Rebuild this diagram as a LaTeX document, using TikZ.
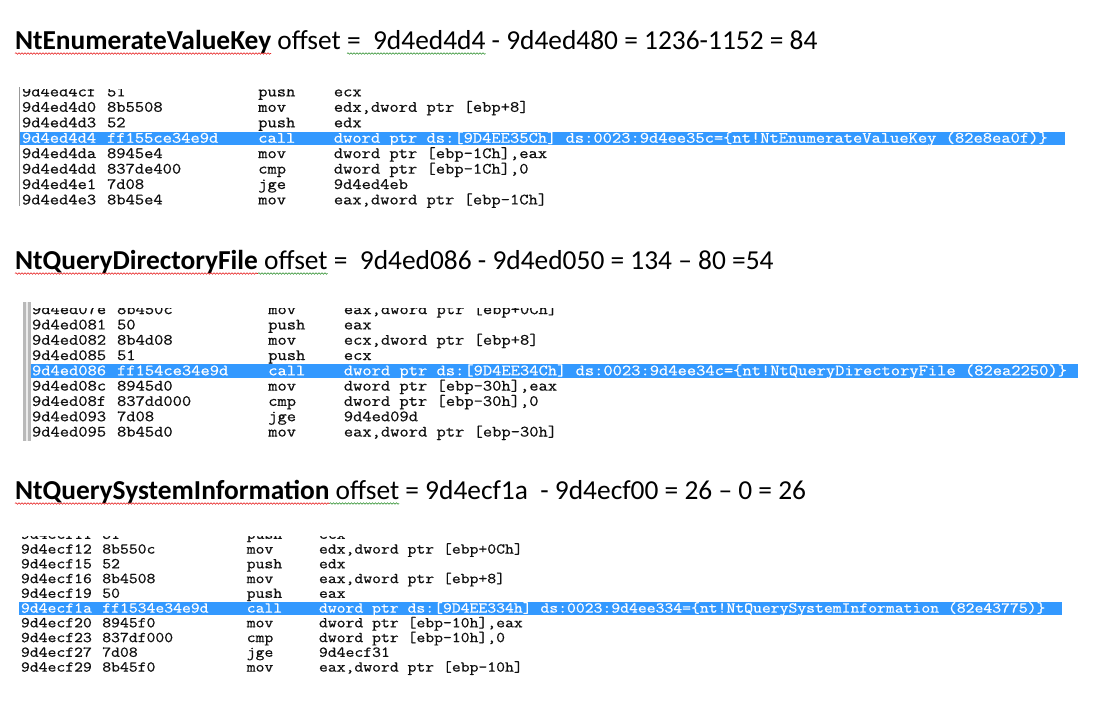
\documentclass[tikz,border=0pt]{standalone}
\usepackage{graphicx}
\usepackage{fontspec}
\setmainfont{Carlito}
\newfontfamily\codefont{Latin Modern Mono}[FakeBold=0.6]
\usetikzlibrary{decorations.pathmorphing}
\definecolor{hlblue}{RGB}{51,153,255}
\definecolor{wavred}{RGB}{230,20,20}
\definecolor{wavgreen}{RGB}{40,140,40}
\definecolor{codeink}{RGB}{15,15,15}
\newcommand\cx{22}
\newcommand\cw{9.45}
\newcommand\csz{15.75}
\newcommand\cwide[1]{\scalebox{1.143}[1]{#1}}
\newcommand\crow[7]{%
  \node[code,#7] (#1a) at (\cx,{#2+4.4}) {\cwide{#3}};
  \node[code,#7] (#1o) at ({\cx+9*\cw},{#2+4.4}) {\cwide{#4}};
  \node[code,#7] (#1m) at ({\cx+25*\cw},{#2+4.4}) {\cwide{#5}};
  \node[code,#7] (#1p) at ({\cx+33*\cw},{#2+4.4}) {\cwide{#6}};}
\begin{document}
\frenchspacing
\begin{tikzpicture}[x=1pt,y=-1pt,
  ttl/.style={inner sep=0pt,outer sep=0pt,anchor=base west,font=\fontsize{27.4}{32}\selectfont},
  ttlb/.style={ttl,font=\fontsize{27.4}{32}\selectfont\bfseries},
  code/.style={inner sep=0pt,outer sep=0pt,anchor=base west,text=codeink,text height=9pt,text depth=2pt,font=\codefont\fontsize{\csz}{\csz}\selectfont},
  sel/.style={text=white},
  hl/.style={fill=hlblue},
  wavyr/.style={draw=wavred,line width=0.55pt,decorate,decoration={snake,amplitude=0.8pt,segment length=3pt}},
  wavyg/.style={draw=wavgreen,line width=0.55pt,decorate,decoration={snake,amplitude=0.8pt,segment length=3pt}}]
\fill[white] (0,0) rectangle (1099,705);
\useasboundingbox (0,0) rectangle (1099,705);

% ---------- titles ----------
\node[ttlb] (t1a) at (15,49) {NtEnumerateValueKey};
\node[ttl] (t1b) at (t1a.base east) {\ offset};
\node[ttl] (t1c) at ([xshift=6.2pt]t1b.base east) {=\ \ 9d4ed4d4};
\node[ttl] (t1d) at (t1c.base east) {\ - 9d4ed480 = 1236-1152 = 84};
\draw[wavyr] ([yshift=-4.5pt]t1a.base west) -- ([yshift=-4.5pt]t1a.base east);
\draw[wavyg] ([yshift=-4.5pt]t1c.base west) -- ([yshift=-4.5pt]t1c.base east);

\node[ttlb] (t2a) at (15,269) {NtQueryDirectoryFile};
\node[ttl] (t2b) at (t2a.base east) {\ offset};
\node[ttl] (t2c) at (t2b.base east) {\ =\ \ 9d4ed086 - 9d4ed050 = 134 – 80 =54};
\draw[wavyr] ([yshift=-4.5pt]t2a.base west) -- ([yshift=-4.5pt]t2a.base east);
\draw[wavyg] ([yshift=-4.5pt]t2b.base west) -- ([yshift=-4.5pt]t2b.base east);

\node[ttlb] (t3a) at (15,499) {NtQuerySystemInformation};
\node[ttl] (t3b) at (t3a.base east) {\ offset};
\node[ttl] (t3c) at (t3b.base east) {\ = 9d4ecf1a\ \ - 9d4ecf00 = 26 – 0 = 26};
\draw[wavyr] ([yshift=-4.5pt]t3a.base west) -- ([yshift=-4.5pt]t3a.base east);
\draw[wavyg] ([yshift=-4.5pt]t3b.base west) -- ([yshift=-4.5pt]t3b.base east);

% ---------- block 1 ----------
\draw[gray!80,line width=1pt] (19.5,87) -- (19.5,206);
\fill[hl] (20,131.5) rectangle (1065,145.1);
\begin{scope}
\clip (0,89) rectangle (1099,215);
\renewcommand\cx{22}\renewcommand\cw{9.45}\renewcommand\csz{15.75}
\crow{a1}{92}{9d4ed4cf}{51}{push}{ecx}{}
\crow{a2}{107.4}{9d4ed4d0}{8b5508}{mov}{edx,dword ptr [ebp+8]}{}
\crow{a3}{122.9}{9d4ed4d3}{52}{push}{edx}{}
\crow{a4}{138.3}{9d4ed4d4}{ff155ce34e9d}{call}{dword ptr ds:[9D4EE35Ch] ds:0023:9d4ee35c=\{nt!NtEnumerateValueKey (82e8ea0f)\}}{sel}
\crow{a5}{153.7}{9d4ed4da}{8945e4}{mov}{dword ptr [ebp-1Ch],eax}{}
\crow{a6}{169.2}{9d4ed4dd}{837de400}{cmp}{dword ptr [ebp-1Ch],0}{}
\crow{a7}{184.6}{9d4ed4e1}{7d08}{jge}{9d4ed4eb}{}
\crow{a8}{200}{9d4ed4e3}{8b45e4}{mov}{eax,dword ptr [ebp-1Ch]}{}
\end{scope}

% ---------- block 2 ----------
\fill[gray!55] (23,302) rectangle (31,441);
\draw[gray!15,line width=1.2pt] (27,302) -- (27,441);
\fill[hl] (31,364.1) rectangle (1078,377.7);
\begin{scope}
\clip (0,308) rectangle (1099,445);
\renewcommand\cx{32}\renewcommand\cw{9.45}\renewcommand\csz{15.75}
\crow{b1}{309.7}{9d4ed07e}{8b450c}{mov}{eax,dword ptr [ebp+0Ch]}{}
\crow{b2}{325}{9d4ed081}{50}{push}{eax}{}
\crow{b3}{340.3}{9d4ed082}{8b4d08}{mov}{ecx,dword ptr [ebp+8]}{}
\crow{b4}{355.6}{9d4ed085}{51}{push}{ecx}{}
\crow{b5}{370.9}{9d4ed086}{ff154ce34e9d}{call}{dword ptr ds:[9D4EE34Ch] ds:0023:9d4ee34c=\{nt!NtQueryDirectoryFile (82ea2250)\}}{sel}
\crow{b6}{386.2}{9d4ed08c}{8945d0}{mov}{dword ptr [ebp-30h],eax}{}
\crow{b7}{401.5}{9d4ed08f}{837dd000}{cmp}{dword ptr [ebp-30h],0}{}
\crow{b8}{416.8}{9d4ed093}{7d08}{jge}{9d4ed09d}{}
\crow{b9}{432.1}{9d4ed095}{8b45d0}{mov}{eax,dword ptr [ebp-30h]}{}
\end{scope}

% ---------- block 3 ----------
\fill[hl] (19,601.6) rectangle (1062,614.8);
\begin{scope}
\clip (0,536.5) rectangle (1099,690);
\renewcommand\cx{21}\renewcommand\cw{9.03}\renewcommand\csz{15.05}
\crow{c1}{534.4}{9d4ecf11}{51}{push}{ecx}{}
\crow{c2}{549.2}{9d4ecf12}{8b550c}{mov}{edx,dword ptr [ebp+0Ch]}{}
\crow{c3}{563.9}{9d4ecf15}{52}{push}{edx}{}
\crow{c4}{578.7}{9d4ecf16}{8b4508}{mov}{eax,dword ptr [ebp+8]}{}
\crow{c5}{593.4}{9d4ecf19}{50}{push}{eax}{}
\crow{c6}{608.2}{9d4ecf1a}{ff1534e34e9d}{call}{dword ptr ds:[9D4EE334h] ds:0023:9d4ee334=\{nt!NtQuerySystemInformation (82e43775)\}}{sel}
\crow{c7}{622.9}{9d4ecf20}{8945f0}{mov}{dword ptr [ebp-10h],eax}{}
\crow{c8}{637.7}{9d4ecf23}{837df000}{cmp}{dword ptr [ebp-10h],0}{}
\crow{c9}{652.4}{9d4ecf27}{7d08}{jge}{9d4ecf31}{}
\crow{c10}{667.2}{9d4ecf29}{8b45f0}{mov}{eax,dword ptr [ebp-10h]}{}
\end{scope}
\end{tikzpicture}
\end{document}
